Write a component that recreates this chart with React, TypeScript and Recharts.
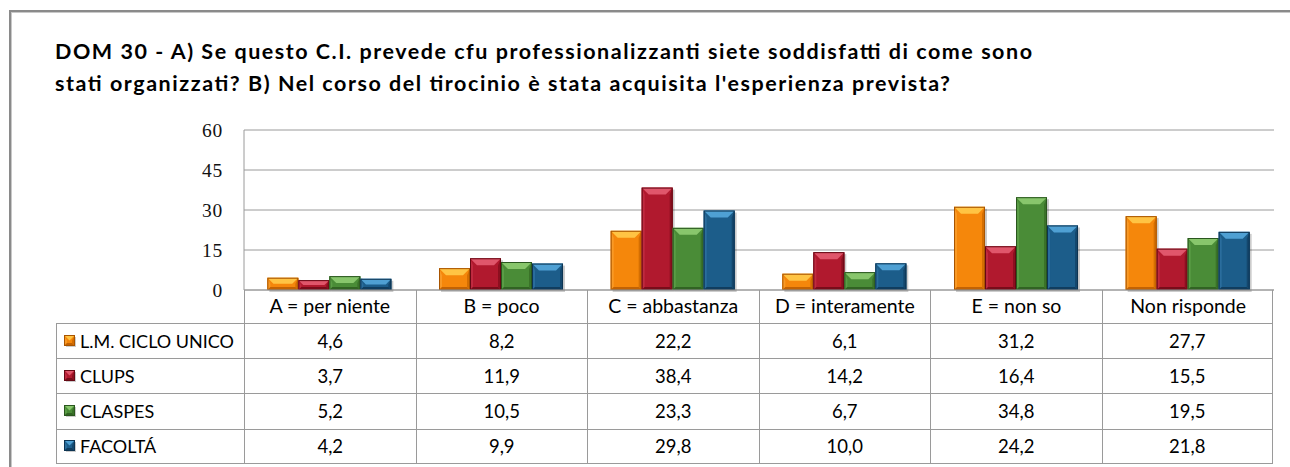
import { BarChart, Bar, XAxis, YAxis, CartesianGrid } from 'recharts'

const categories = ['A = per niente', 'B = poco', 'C = abbastanza', 'D = interamente', 'E = non so', 'Non risponde']
const seriesNames = ['L.M. CICLO UNICO', 'CLUPS', 'CLASPES', 'FACOLTÁ']
const lmCicloUnico = [4.6, 8.2, 22.2, 6.1, 31.2, 27.7]
const clups = [3.7, 11.9, 38.4, 14.2, 16.4, 15.5]
const claspes = [5.2, 10.5, 23.3, 6.7, 34.8, 19.5]
const facolta = [4.2, 9.9, 29.8, 10.0, 24.2, 21.8]
const yTicks = [0, 15, 30, 45, 60]
const titleLines = [
  'DOM 30 - A) Se questo C.I. prevede cfu professionalizzanti siete soddisfatti di come sono',
  "stati organizzati? B) Nel corso del tirocinio è stata acquisita l'esperienza prevista?",
]

const seriesValues = [lmCicloUnico, clups, claspes, facolta]
const keys = ['s0', 's1', 's2', 's3']

const palettes = [
  { face: '#f5870b', top: '#ffc444', left: '#f99a26', right: '#d46e02', bottom: '#c26203', edge: '#a85400' },
  { face: '#b1192e', top: '#e0566b', left: '#c02a40', right: '#8c1020', bottom: '#790c1a', edge: '#650914' },
  { face: '#4a8c37', top: '#88c66c', left: '#5a9d46', right: '#3a7229', bottom: '#316323', edge: '#2a561e' },
  { face: '#1c5d8a', top: '#4fa0d3', left: '#2a6d9d', right: '#14476d', bottom: '#103d5f', edge: '#0d3452' },
]

const data = categories.map((c, i) => {
  const row: any = { name: c }
  seriesValues.forEach((vals, s) => (row[keys[s]] = vals[i]))
  return row
})

const fmt = (v: number) => v.toFixed(1).replace('.', ',')

function BevelBar(props: any) {
  const { x, y, width: w, height: h, pal } = props
  if (!h || h <= 0) return null
  const b = Math.min(7, h / 2, w / 2)
  const s = Math.min(3, h / 3)
  return (
    <g>
      <rect x={x + 2} y={y + 2} width={w} height={h} fill="rgba(0,0,0,0.2)" />
      <rect x={x} y={y} width={w} height={h} fill={pal.face} />
      <polygon points={`${x},${y} ${x + w},${y} ${x + w - b},${y + b} ${x + b},${y + b}`} fill={pal.top} />
      <polygon points={`${x},${y} ${x + s},${y + b} ${x + s},${y + h - s} ${x},${y + h}`} fill={pal.left} />
      <polygon points={`${x + w},${y} ${x + w - s},${y + b} ${x + w - s},${y + h - s} ${x + w},${y + h}`} fill={pal.right} />
      <polygon points={`${x},${y + h} ${x + s},${y + h - s} ${x + w - s},${y + h - s} ${x + w},${y + h}`} fill={pal.bottom} />
      <rect x={x + 0.5} y={y + 0.5} width={w - 1} height={h - 1} fill="none" stroke={pal.edge} strokeWidth={1} />
    </g>
  )
}

function LegendKey({ pal }: any) {
  return (
    <svg width={12} height={12} style={{ marginRight: 4, flex: 'none' }}>
      <BevelBar x={0} y={0} width={11} height={11} pal={pal} />
    </svg>
  )
}

const font = 'Lato, "Open Sans", sans-serif'
const lineColor = '#9a9a9a'
const colW = 171.5
const rowH = 35.2

export default function App() {
  return (
    <div style={{ position: 'absolute', left: 0, top: 0, width: 1290, height: 467, background: '#fff', overflow: 'hidden' }}>
      <div style={{ position: 'absolute', left: 9, top: 10, width: 1290, height: 470, borderTop: '2px solid #8a8a8a', borderLeft: '2px solid #8a8a8a', boxShadow: 'inset 1px 1px 0 #c8c8c8' }} />
      <svg style={{ position: 'absolute', left: 0, top: 0 }} width={1290} height={110}>
        <text x={55} y={59} fontFamily={font} fontWeight={700} fontSize={21.5} textLength={977} lengthAdjust="spacing" fill="#000">
          {titleLines[0]}
        </text>
        <text x={55} y={91} fontFamily={font} fontWeight={700} fontSize={21.5} textLength={895} lengthAdjust="spacing" fill="#000">
          {titleLines[1]}
        </text>
      </svg>
      <div style={{ position: 'absolute', left: 0, top: 0 }}>
        <BarChart width={1290} height={467} data={data} margin={{ top: 130, right: 16, bottom: 144, left: 0 }} barCategoryGap="13.6%" barGap={0}>
          <CartesianGrid vertical={false} stroke={lineColor} />
          <YAxis
            width={244}
            domain={[0, 60]}
            ticks={yTicks}
            tickLine={false}
            tickSize={0}
            tickMargin={21}
            axisLine={{ stroke: lineColor }}
            tick={{ fill: '#111', fontSize: 19.5, letterSpacing: 0.8, fontFamily: '"Liberation Serif", serif' }}
          />
          <XAxis
            dataKey="name"
            height={33}
            tickLine={false}
            tickSize={0}
            tickMargin={9}
            axisLine={{ stroke: lineColor }}
            interval={0}
            tick={{ fill: '#000', fontSize: 19.5, fontFamily: font }}
          />
          {keys.map((k, s) => (
            <Bar key={k} dataKey={k} name={seriesNames[s]} isAnimationActive={false} shape={(p: any) => <BevelBar {...p} pal={palettes[s]} />} />
          ))}
        </BarChart>
      </div>
      {/* category row borders */}
      {categories.map((c, i) => (
        <div key={c} style={{ position: 'absolute', left: 244 + i * colW, top: 290, width: colW, height: 323 - 290, borderLeft: `1px solid ${lineColor}`, borderRight: i === categories.length - 1 ? `1px solid ${lineColor}` : 'none', boxSizing: 'border-box' }} />
      ))}
      {/* data table */}
      <div style={{ position: 'absolute', left: 56, top: 323, fontFamily: font, fontSize: 18.5, color: '#000' }}>
        {seriesNames.map((n, s) => (
          <div key={n} style={{ position: 'absolute', left: 0, top: s * rowH, height: rowH, width: 1274 - 56, display: 'flex' }}>
            <div style={{ width: 244 - 56, height: rowH, display: 'flex', alignItems: 'center', paddingLeft: 7, boxSizing: 'border-box', borderTop: `1px solid ${lineColor}`, borderLeft: `1px solid ${lineColor}`, borderBottom: s === 3 ? `1px solid ${lineColor}` : 'none', whiteSpace: 'nowrap', fontSize: 18 }}>
              <LegendKey pal={palettes[s]} />
              {n}
            </div>
            {seriesValues[s].map((v, i) => (
              <div key={i} style={{ width: colW, height: rowH, display: 'flex', alignItems: 'center', justifyContent: 'center', boxSizing: 'border-box', borderTop: `1px solid ${lineColor}`, borderLeft: `1px solid ${lineColor}`, borderRight: i === 5 ? `1px solid ${lineColor}` : 'none', borderBottom: s === 3 ? `1px solid ${lineColor}` : 'none' }}>
                {fmt(v)}
              </div>
            ))}
          </div>
        ))}
      </div>
    </div>
  )
}
